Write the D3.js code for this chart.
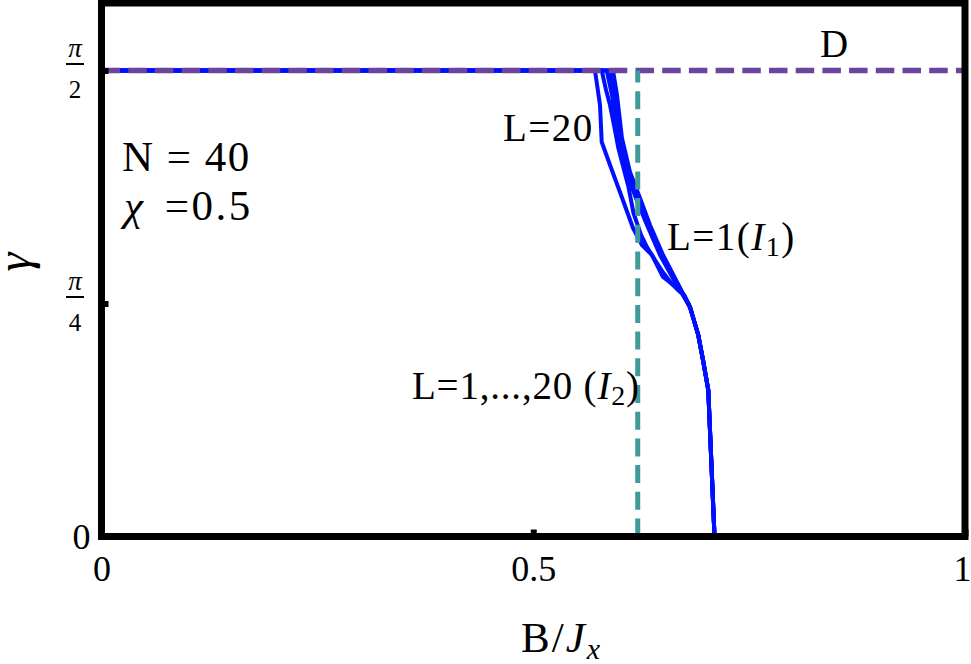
<!DOCTYPE html>
<html><head><meta charset="utf-8">
<script src="https://cdn.jsdelivr.net/npm/d3@7"></script>
<style>
body{margin:0;background:#fff;}
text{font-family:"Liberation Serif","DejaVu Serif",serif;fill:#000;}
</style></head>
<body><svg id="chart" width="971" height="664"></svg>
<script>
const xTicks = [0, 0.5, 1];
const xTickLabels = ["0", "0.5", "1"];
const yTicks = [0, Math.PI / 4, Math.PI / 2];
const yTickLabels = [["", "0"], ["π", "4"], ["π", "2"]];

// blue curves (B/Jx, gamma)
const curveL20 = [[0,1.5708],[0.5715,1.5708],[0.5773,1.4545],[0.5793,1.3298],[0.5889,1.2523],[0.6004,1.1612],[0.6155,1.0399],[0.6259,0.9826],[0.6375,0.9489],[0.6503,0.8747],[0.6607,0.8511],[0.6700,0.8309],[0.6746,0.8141],[0.6815,0.7736],[0.6911,0.6792],[0.6966,0.5949],[0.7027,0.4938],[0.7099,0]];
const curveB = [[0,1.5708],[0.5793,1.5708],[0.5843,1.5051],[0.5889,1.4545],[0.5935,1.3871],[0.5985,1.3096],[0.6103,1.1781],[0.6161,1.0905],[0.6248,1.0163],[0.6317,0.9758],[0.6410,0.9320],[0.6508,0.8882],[0.6607,0.8511],[0.6700,0.8242],[0.6746,0.8141],[0.6815,0.7736],[0.6911,0.6792],[0.6966,0.5949],[0.7027,0.4938],[0.7099,0]];
const curveC = [[0,1.5708],[0.5851,1.5708],[0.5912,1.4882],[0.5981,1.3433],[0.6074,1.2287],[0.6190,1.1410],[0.6317,1.0500],[0.6468,0.9489],[0.6642,0.8579],[0.6815,0.7736],[0.6911,0.6792],[0.6966,0.5949],[0.7027,0.4938],[0.7099,0]];
const curveD = [[0,1.5708],[0.5889,1.5708],[0.5947,1.4882],[0.6004,1.3433],[0.6097,1.2287],[0.6213,1.1410],[0.6335,1.0500],[0.6485,0.9489],[0.6654,0.8579],[0.6815,0.7736],[0.6911,0.6792],[0.6966,0.5949],[0.7027,0.4938],[0.7099,0]];
const curveL1 = [[0,1.5708],[0.5924,1.5708],[0.5970,1.4882],[0.6027,1.3433],[0.6120,1.2287],[0.6236,1.1410],[0.6352,1.0500],[0.6503,0.9489],[0.6665,0.8579],[0.6815,0.7736],[0.6911,0.6792],[0.6966,0.5949],[0.7027,0.4938],[0.7099,0]];
const blueCurves = [curveL20, curveB, curveC, curveD, curveL1];

const lineD = [[0, 1.5708], [1, 1.5708]];     // purple dashed (D)
const lineI2 = [[0.621, 0], [0.621, 1.5708]]; // teal dashed (I2)

const svg = d3.select("#chart");
const x = d3.scaleLinear().domain([0, 1]).range([101.5, 965]);
const y = d3.scaleLinear().domain([0, 1.7984]).range([536.5, 3]);
const line = d3.line().x(d => x(d[0])).y(d => y(d[1]));

// curves
svg.append("g").selectAll("path").data(blueCurves).join("path")
  .attr("d", line).attr("fill", "none").attr("stroke", "#0010ff")
  .attr("stroke-width", 4).attr("stroke-linejoin", "round");

svg.append("path").attr("d", line(lineD)).attr("fill", "none")
  .attr("stroke", "#6a449e").attr("stroke-width", 5.5).attr("stroke-dasharray", "18.5,8.2");
svg.append("path").attr("d", line(lineI2)).attr("fill", "none")
  .attr("stroke", "#3f9a9a").attr("stroke-width", 5).attr("stroke-dasharray", "18,8.7");

// axes
const xAxis = d3.axisBottom(x).tickValues(xTicks).tickSizeInner(-7).tickSizeOuter(0)
  .tickPadding(19).tickFormat((d, i) => xTickLabels[i]);
const gx = svg.append("g").attr("transform", `translate(0,${y(0)})`).call(xAxis);
gx.select(".domain").remove();
gx.selectAll("line").attr("stroke", "#000").attr("stroke-width", 6);
gx.selectAll("text").attr("font-size", 36).attr("dx", (d, i) => i === 2 ? -3 : 0);

const yAxis = d3.axisLeft(y).tickValues(yTicks).tickSizeInner(-7).tickSizeOuter(0)
  .tickPadding(11).tickFormat((d, i) => yTickLabels[i][0] === "" ? yTickLabels[i][1] : "");
const gy = svg.append("g").attr("transform", `translate(${x(0)},0)`).call(yAxis);
gy.select(".domain").remove();
gy.selectAll("line").attr("stroke", "#000").attr("stroke-width", 6);
gy.selectAll("text").attr("font-size", 36);

// fraction labels
yTicks.forEach((v, i) => {
  const [num, den] = yTickLabels[i];
  if (num === "") return;
  const cy = y(v);
  const g = svg.append("g").attr("transform", `translate(75,${cy})`);
  g.append("text").attr("x", 0).attr("y", -13.5).attr("text-anchor", "middle")
    .attr("font-size", 27).attr("font-style", "italic").text(num);
  g.append("line").attr("x1", -9).attr("x2", 9).attr("y1", -6.5).attr("y2", -6.5)
    .attr("stroke", "#000").attr("stroke-width", 2);
  g.append("text").attr("x", 0).attr("y", 27).attr("text-anchor", "middle")
    .attr("font-size", 25).text(den);
});

// frame
svg.append("rect").attr("x", x(0)).attr("y", y(1.7984)).attr("width", x(1) - x(0))
  .attr("height", y(0) - y(1.7984)).attr("fill", "none").attr("stroke", "#000").attr("stroke-width", 7);

// axis labels
svg.append("text").attr("transform", "translate(30,262) rotate(-90)")
  .attr("text-anchor", "middle").attr("font-size", 48).attr("font-style", "italic").text("γ");
const xl = svg.append("text").attr("x", 521).attr("y", 652).attr("font-size", 43).attr("letter-spacing", 2);
xl.append("tspan").text("B/");
xl.append("tspan").attr("font-style", "italic").text("J");
xl.append("tspan").attr("font-style", "italic").attr("font-size", 30).attr("dy", 7).text("x");

// annotations
function styled(sel, fs, ls) { return sel.attr("font-size", fs).attr("letter-spacing", ls); }
styled(svg.append("text").attr("x", 122).attr("y", 171).attr("xml:space", "preserve"), 43, 1.5).text("N = 40");
const chi = styled(svg.append("text").attr("x", 124).attr("y", 220).attr("xml:space", "preserve").attr("word-spacing", 6), 43, 2.5);
chi.append("tspan").attr("font-style", "italic").text("χ");
chi.append("tspan").text(" =0.5");
styled(svg.append("text").attr("x", 503).attr("y", 141), 39, 1.5).text("L=20");
const l1 = styled(svg.append("text").attr("x", 667).attr("y", 250), 39, 1.5);
l1.append("tspan").text("L=1(");
l1.append("tspan").attr("font-style", "italic").text("I");
l1.append("tspan").attr("font-size", 28).attr("dy", 6).text("1");
l1.append("tspan").attr("dy", -6).text(")");
const l2 = styled(svg.append("text").attr("x", 412).attr("y", 399).attr("xml:space", "preserve"), 39, 0.8);
l2.append("tspan").text("L=1,...,20 (");
l2.append("tspan").attr("font-style", "italic").text("I");
l2.append("tspan").attr("font-size", 28).attr("dy", 6).text("2");
l2.append("tspan").attr("dy", -6).text(")");
styled(svg.append("text").attr("x", 820).attr("y", 57), 39, 1.5).text("D");
</script>
</body></html>
